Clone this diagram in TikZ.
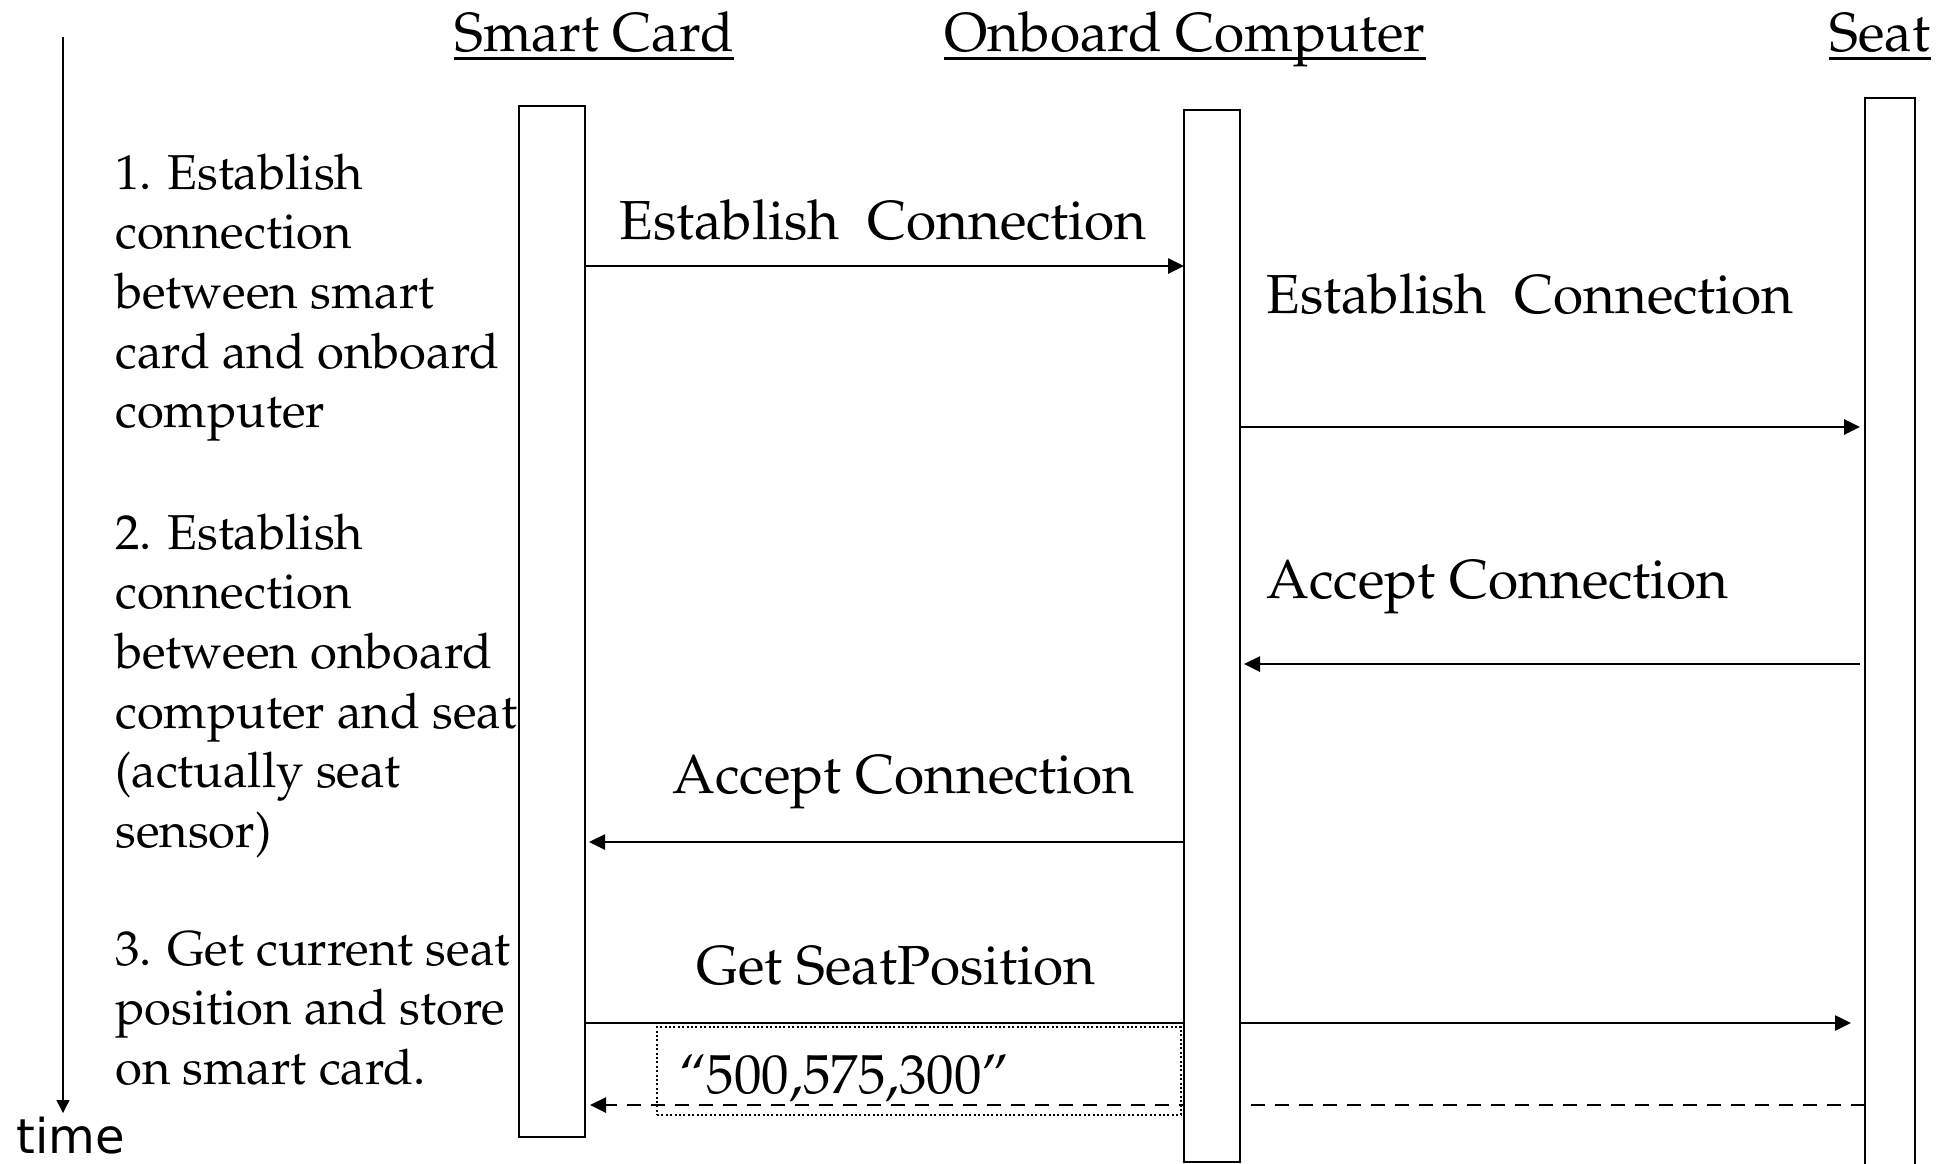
\documentclass[tikz,border=0pt]{standalone}
\usepackage[T1]{fontenc}
\usepackage{fontspec}
\newfontfamily\timefont{DejaVu Sans}
\newcommand\palfont{\fontencoding{T1}\fontfamily{ppl}\selectfont}
\usetikzlibrary{arrows.meta,backgrounds}

\begin{document}
\begin{tikzpicture}[x=0.5pt,y=-0.5pt,
  lifebox/.style={draw, line width=1pt, fill=white, rectangle, inner sep=0pt, outer sep=0pt},
  title/.style={font=\fontsize{27.5}{33}\palfont, anchor=base, inner sep=0pt},
  msglbl/.style={font=\fontsize{27.5}{33}\palfont, anchor=base west, inner sep=0pt},
  steptext/.style={font=\fontsize{24.5}{29.85}\palfont, anchor=base west, inner sep=0pt},
  msg/.style={line width=1.3pt, -{Triangle[length=8pt,width=7.5pt]}},
  reply/.style={msg, dash pattern=on 7pt off 5pt},
]
\useasboundingbox (0,0) rectangle (1952,1163);

% participants
\node[title] (sctitle) at (594,51) {Smart Card};
\node[title] (octitle) at (1185,51) {Onboard Computer};
\node[title] (seattitle) at (1880,51) {Seat};
\foreach \t in {sctitle,octitle,seattitle}
  \draw[line width=1.2pt] ([yshift=-3.7pt]\t.base west) -- ([yshift=-3.7pt]\t.base east);

% activation bars
\node[lifebox, minimum width=33pt, minimum height=515.5pt] (scbox) at (552,621.5) {};
\node[lifebox, minimum width=28pt, minimum height=526pt] (ocbox) at (1212,636) {};
\node[lifebox, minimum width=25pt, minimum height=538.5pt] (seatbox) at (1890,636.5) {};

% message rows
\coordinate (r1) at (0,266);
\coordinate (r2) at (0,427);
\coordinate (r3) at (0,664);
\coordinate (r4) at (0,842);
\coordinate (r5) at (0,1023);
\coordinate (r6) at (0,1105);

\begin{pgfonlayer}{background}
\draw[msg] (scbox.east |- r1) -- (ocbox.west |- r1);
\draw[msg, shorten >=2.5pt] (ocbox.east |- r2) -- (seatbox.west |- r2);
\draw[msg, shorten <=2.5pt, shorten >=2pt] (seatbox.west |- r3) -- (ocbox.east |- r3);
\draw[msg, shorten >=2pt] (ocbox.west |- r4) -- (scbox.east |- r4);
\draw[msg, shorten >=7pt] (scbox.east |- r5) -- (seatbox.west |- r5);
\draw[reply, shorten >=2.5pt] (seatbox.west |- r6) -- (scbox.east |- r6);
\end{pgfonlayer}

% message labels
\node[msglbl] (l1) at (619,239) {Establish\ \ Connection};
\node[msglbl] (l2) at (1266,313) {Establish\ \ Connection};
\node[msglbl] (l3) at (1266,598) {Accept Connection};
\node[msglbl] (l4) at (672,793) {Accept Connection};
\node[msglbl] (l5) at (696,984) {Get SeatPosition};
\node[draw, dash pattern=on 1pt off 1.2pt, line width=0.9pt, minimum width=262pt,
      minimum height=44pt, inner sep=0pt] (valbox) at (919,1071) {};
\node[msglbl] (val) at (679,1093) {``500,575,300''};

% step descriptions
\node[steptext] (s1) at (115,189) {\begin{tabular}[t]{@{}l@{}}1. Establish\\connection\\between smart\\card and onboard\\computer\end{tabular}};
\node[steptext] (s2) at (115,549) {\begin{tabular}[t]{@{}l@{}}2. Establish\\connection\\between onboard\\computer and seat\\(actually seat\\sensor)\end{tabular}};
\node[steptext] (s3) at (115,965) {\begin{tabular}[t]{@{}l@{}}3. Get current seat\\position and store\\on smart card.\end{tabular}};

% time axis
\coordinate (tstart) at (63,37);
\coordinate (tend) at (63,1113);
\draw[line width=0.7pt, -{Triangle[length=6.5pt,width=6.5pt]}] (tstart) -- (tend);
\node[font=\fontsize{24}{29}\timefont, anchor=base, inner sep=0pt] (timelbl) at (71,1153) {time};
\end{tikzpicture}
\end{document}
